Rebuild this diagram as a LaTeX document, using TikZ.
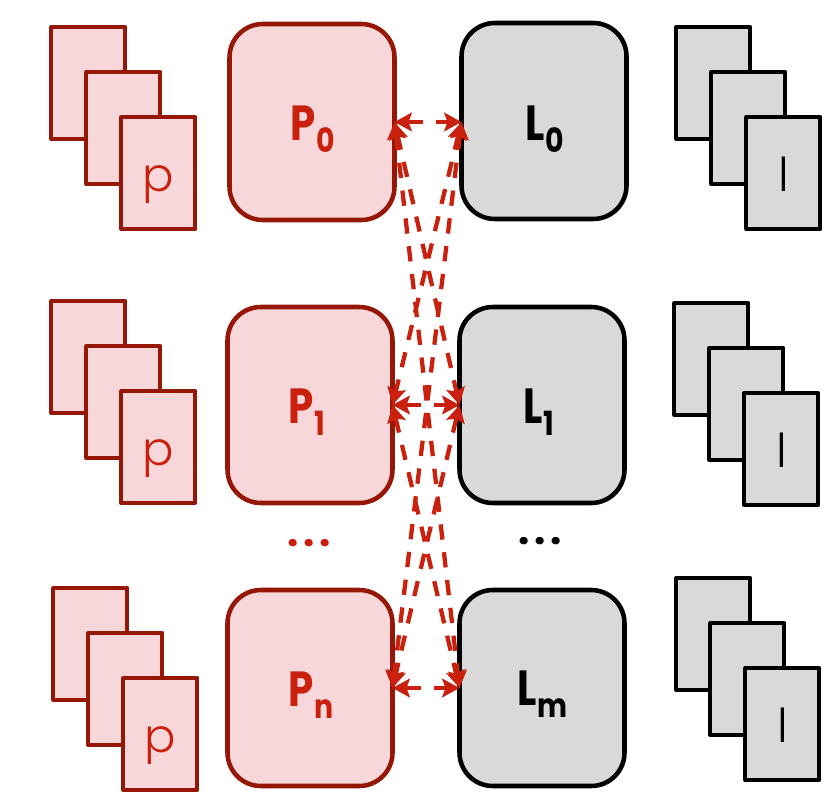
\documentclass[tikz,border=0pt]{standalone}
\usepackage{fontspec}
\setmainfont{Poppins}
\newfontfamily\thinfont{Poppins Light}
\newfontfamily\boldfont{Poppins Bold}
\usetikzlibrary{arrows.meta}
\definecolor{darkred}{HTML}{961706}
\definecolor{pinkfill}{HTML}{F8D7DA}
\definecolor{redtext}{HTML}{C9210D}
\definecolor{grayfill}{HTML}{D9D9D9}
\newcommand{\lab}[2]{\scalebox{0.82}[1]{\boldfont\fontsize{37pt}{37pt}\selectfont #1}\kern1pt\raisebox{-9.5pt}{\scalebox{0.85}[1]{\boldfont\fontsize{25pt}{25pt}\selectfont #2}}}
\newcommand{\glyph}[1]{\raisebox{-14pt}[0pt][0pt]{#1}}
\newcommand{\spreaddots}{.\kern3.7pt.\kern3.7pt.}
\tikzset{
  big/.style={rectangle,rounded corners=25pt,minimum width=123.75pt,minimum height=147pt,line width=3.4pt,outer sep=0pt,inner sep=0pt},
  bigP/.style={big,draw=darkred,fill=pinkfill},
  bigL/.style={big,draw=black,fill=grayfill},
  sheet/.style={rectangle,minimum width=55.5pt,minimum height=84pt,line width=3pt,line join=round,outer sep=0pt,inner sep=0pt},
  sheetP/.style={sheet,draw=darkred,fill=pinkfill,text=redtext,font=\thinfont\fontsize{35pt}{35pt}\selectfont},
  sheetL/.style={sheet,draw=black,fill=grayfill,text=black,font=\thinfont\fontsize{35pt}{35pt}\selectfont},
  labP/.style={anchor=base west,inner sep=0pt,text=redtext},
  labL/.style={anchor=base west,inner sep=0pt,text=black},
  dotlab/.style={anchor=base,inner sep=0pt,font=\boldfont\fontsize{30pt}{30pt}\selectfont},
  link/.style={draw=redtext,line width=3.2pt,dash pattern=on 11.5pt off 9.5pt,{Stealth[length=13pt,width=14pt,inset=2.5pt]}-{Stealth[length=13pt,width=14pt,inset=2.5pt]}},
}
\begin{document}
\begin{tikzpicture}[x=0.75pt,y=-0.75pt]
\useasboundingbox (0,0) rectangle (830,792);
% sheets
\node[sheetP] (a1) at (88.4,83) {};
\node[sheetP] (a2) at (123.4,128) {};
\node[sheetP] (a3) at (158.4,173) {\glyph{p}};
\node[sheetP] (b1) at (88.4,357) {};
\node[sheetP] (b2) at (123.4,402) {};
\node[sheetP] (b3) at (158.4,447) {\glyph{p}};
\node[sheetP] (c1) at (90.4,644) {};
\node[sheetP] (c2) at (125.4,689) {};
\node[sheetP] (c3) at (160.4,734) {\glyph{p}};
\node[sheetL] (d1) at (713.4,83) {};
\node[sheetL] (d2) at (748.4,128) {};
\node[sheetL] (d3) at (783.4,173) {\glyph{l}};
\node[sheetL] (e1) at (711.4,359) {};
\node[sheetL] (e2) at (746.4,404) {};
\node[sheetL] (e3) at (781.4,449) {\glyph{l}};
\node[sheetL] (f1) at (713.4,634) {};
\node[sheetL] (f2) at (747.4,679) {};
\node[sheetL] (f3) at (782.4,724) {\glyph{l}};
% big boxes
\node[bigP] (P0) at (312,122) {};
\node[bigP] (P1) at (310,405) {};
\node[bigP] (Pn) at (310,688) {};
\node[bigL] (L0) at (544,121) {};
\node[bigL] (L1) at (542,405) {};
\node[bigL] (Lm) at (542,688) {};
% labels
\node[labP] (tP0) at (290,140) {\lab{P}{0}};
\node[labP] (tP1) at (288,423) {\lab{P}{1}};
\node[labP] (tPn) at (288,706) {\lab{P}{n}};
\node[labL] (tL0) at (525,140) {\lab{L}{0}};
\node[labL] (tL1) at (523,423) {\lab{L}{1}};
\node[labL] (tLm) at (517,705) {\lab{L}{m}};
\node[dotlab,text=redtext] (dotsP) at (309.3,546.2) {\spreaddots};
\node[dotlab,text=black] (dotsL) at (540.3,544.2) {\spreaddots};
% connectors
\coordinate (p0) at (P0.east); \coordinate (l0) at (L0.west|-P0.east);
\coordinate (p1) at (P1.east); \coordinate (l1) at (L1.west);
\coordinate (pn) at (Pn.east); \coordinate (lm) at (Lm.west);
\draw[link] (p0) -- (l0);
\draw[link] (p1) -- (l1);
\draw[link] (pn) -- (lm);
\draw[link] (p0) -- (l1);
\draw[link] (p0) -- (lm);
\draw[link] (l0) -- (p1);
\draw[link] (l0) -- (pn);
\draw[link] (p1) -- (lm);
\draw[link] (l1) -- (pn);
\end{tikzpicture}
\end{document}
